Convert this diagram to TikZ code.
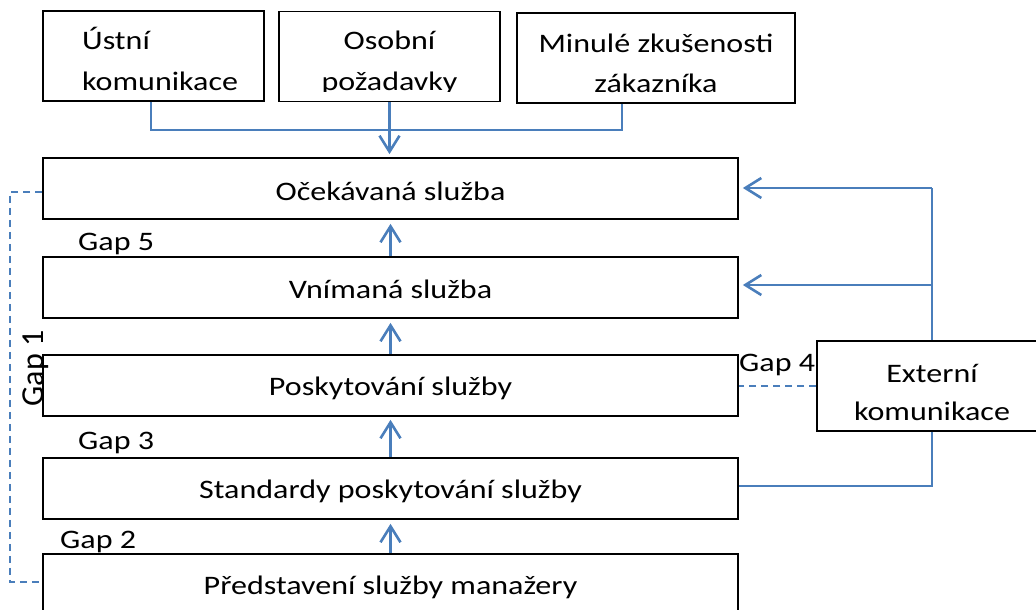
\documentclass[tikz,border=0pt]{standalone}
\usepackage{fontspec}
\setmainfont{Carlito}[FakeStretch=1.2]
\newfontfamily\uprightlabel{Carlito}
\usetikzlibrary{arrows.meta}
\definecolor{linkblue}{RGB}{74,126,187}
\begin{document}
\begin{tikzpicture}[x=1pt,y=-1pt,
  every node/.style={font=\fontsize{26.7pt}{32pt}\selectfont},
  box/.style={draw=black, line width=1.7pt, inner sep=0pt},
  topbox/.style={box, minimum width=221pt, minimum height=90pt},
  mainbox/.style={box, minimum width=695pt, minimum height=61pt},
  lbl/.style={inner sep=0pt, anchor=base},
  flow/.style={draw=linkblue, line width=2.6pt},
  arr/.style={flow, -{Straight Barb[length=16pt,width=20pt]}},
  gapline/.style={draw=linkblue, line width=2pt, dash pattern=on 7pt off 5pt}]
\useasboundingbox (0,0) rectangle (1036,610);
\clip (0,0) rectangle (1036,610);

% customer-side inputs
\node[topbox] (usti) at (153.5,56) {};
\node[topbox] (osob) at (389.5,56.5) {};
\node[box, minimum width=278pt, minimum height=90pt] (mzk) at (656,58) {};
\node[lbl, anchor=base west] (usti1) at (82,49) {Ústní};
\node[lbl, anchor=base west] (usti2) at (82,91) {komunikace};
\begin{scope}
  % the text frame cuts off the descenders of the second line
  \clip (osob.north west) rectangle (osob.east |- 0,91.8);
  \node[lbl] (osob1) at (389.5,50) {Osobní};
  \node[lbl] (osob2) at (389.5,90.5) {požadavky};
\end{scope}
\node[lbl] (mzk1) at (656,53) {Minulé zkušenosti};
\node[lbl] (mzk2) at (656,92.5) {zákazníka};

% main chain
\node[mainbox] (oce) at (390.5,188.5) {};
\node[mainbox] (vnim) at (390.5,287.5) {};
\node[mainbox] (posk) at (390.5,385.5) {};
\node[mainbox] (stand) at (390.5,488.5) {};
\node[mainbox] (pred) at (390.5,584.5) {};
\node[lbl] (toce) at (390.5,200) {Očekávaná služba};
\node[lbl] (tvnim) at (390.5,298) {Vnímaná služba};
\node[lbl] (tposk) at (390.5,395) {Poskytování služby};
\node[lbl] (tstand) at (390.5,498) {Standardy poskytování služby};
\node[lbl] (tpred) at (390.5,594.5) {Představení služby manažery};

% external communication
\node[box, minimum width=230pt, minimum height=90pt] (ext) at (932,386) {};
\node[lbl] (ext1) at (932,382) {Externí};
\node[lbl] (ext2) at (932,420) {komunikace};

% gap labels
\node[lbl, anchor=base west] (gap5) at (78,250.5) {Gap 5};
\node[lbl, anchor=base west] (gap3) at (78,449) {Gap 3};
\node[lbl, anchor=base west] (gap2) at (60,548) {Gap 2};
\node[lbl, anchor=base west] (gap4) at (739,371) {Gap 4};
\node[lbl, rotate=90, font=\uprightlabel\fontsize{32pt}{38pt}\selectfont] (gap1) at (43,368.5) {Gap 1};

% inputs merge into the expected service
\coordinate (aj) at (151,130);
\coordinate (cj) at (622,130);
\draw[flow] (aj |- usti.south) -- (aj) -- (cj) -- (cj |- mzk.south);
\draw[arr, shorten >=3pt] (osob.south) -- (osob.south |- oce.north);

% upward arrows along the chain
\draw[arr, shorten >=4pt] (vnim.north) -- (oce.south);
\draw[arr, shorten >=4pt] (posk.north) -- (vnim.south);
\draw[arr, shorten >=3pt] (stand.north) -- (posk.south);
\draw[arr, shorten >=4pt] (pred.north) -- (stand.south);

% external communication feeds
\coordinate (rtop) at (932,188);
\coordinate (rmid) at (932,285);
\coordinate (rbot) at (932,486);
\draw[flow] (ext.north) -- (rtop);
\draw[arr, shorten >=4pt] (rtop) -- (rtop -| oce.east);
\draw[arr, shorten >=4pt] (rmid) -- (rmid -| vnim.east);
\draw[flow] (ext.south) -- (rbot) -- (rbot -| stand.east);

% gap lines
\draw[gapline] (ext.west) -- (ext.west -| posk.east);
\coordinate (g1a) at (10,192);
\coordinate (g1b) at (10,582);
\draw[gapline] (g1a -| oce.west) -- (g1a) -- (g1b) -- (g1b -| pred.west);
\end{tikzpicture}
\end{document}
